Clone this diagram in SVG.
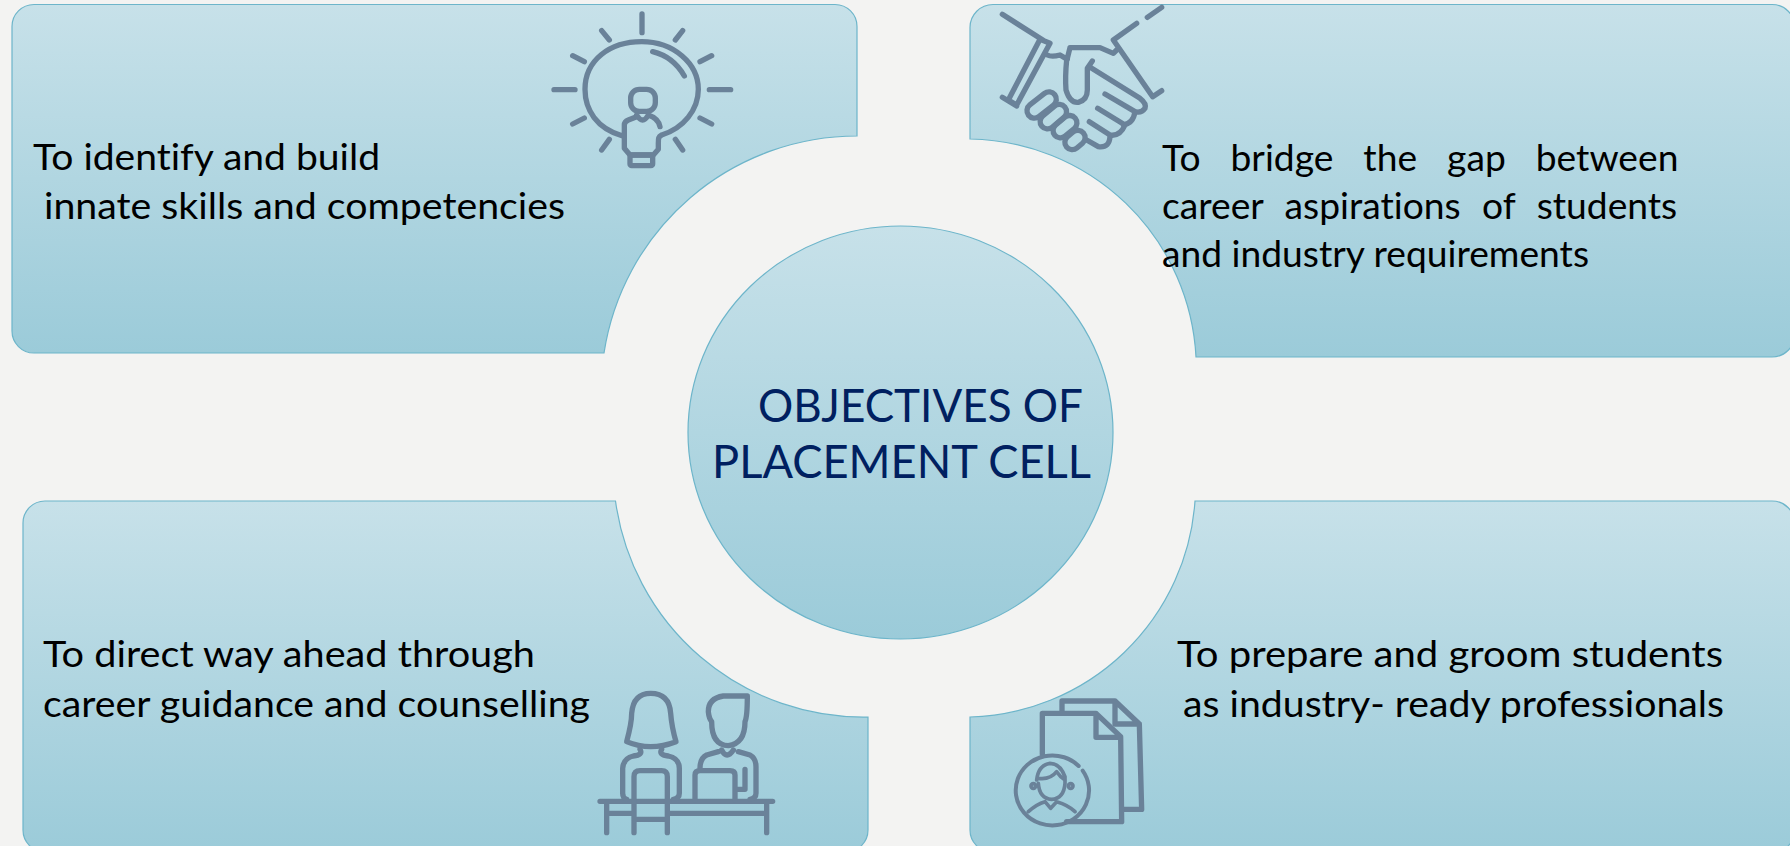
<svg xmlns="http://www.w3.org/2000/svg" width="1790" height="846" viewBox="0 0 1790 846">
<style>
.panel{fill:url(#g);stroke:#6db5ca;stroke-width:1.2}
.t{font-family:"Lato","Liberation Sans",sans-serif;font-size:37.2px;fill:#000;font-variant-ligatures:none}
.h{font-family:"Lato","Liberation Sans",sans-serif;font-size:46px;fill:#002060;font-variant-ligatures:none}
.i{fill:none;stroke:#6a8299;stroke-width:16;stroke-linecap:round;stroke-linejoin:round}
</style>
<defs>
<linearGradient id="g" x1="0" y1="0" x2="0" y2="1"><stop offset="0" stop-color="#c7e1e9"/><stop offset="1" stop-color="#9bcbd9"/></linearGradient>
</defs>
<rect width="1790" height="846" fill="#f3f3f2"/>
<g id="panel-top-left">
<path class="panel" d="M34,4.5H835A22,22 0 0 1 857,26.5V136A256,256 0 0 0 604,353H34A22,22 0 0 1 12,331V26.5A22,22 0 0 1 34,4.5Z"/>
<text class="t" x="33" y="170" textLength="347" lengthAdjust="spacingAndGlyphs">To identify and build</text>
<text class="t" x="44" y="219" textLength="521" lengthAdjust="spacingAndGlyphs">innate skills and competencies</text>
<g class="i" transform="translate(530,0) scale(.33333)">
<path d="M336,42V98M72,269H135M538,269H602M128,167L163,185M545,167L510,185M128,372L163,354M545,372L510,354M215,92L238,120M458,92L436,120M215,450L238,418M458,450L436,418"/>
<path d="M278,408C200,385 165,330 165,268C165,180 240,125 335,125C430,125 505,190 505,268C505,330 460,385 395,405C385,410 385,415 385,430V448L370,465H300L283,445V375Q283,365 295,360L320,350"/>
<path d="M368,155Q430,170 463,228"/>
<rect x="302" y="268" width="74" height="66" rx="26"/>
<path d="M320,345Q338,375 355,345Q385,355 390,380"/>
<rect x="300" y="465" width="68" height="32" rx="5"/>
</g>
</g>
<g id="panel-top-right">
<path class="panel" d="M993,4.5H1772A23,23 0 0 1 1795,27.5V334A23,23 0 0 1 1772,357H1196A230,230 0 0 0 970,139V27.5A23,23 0 0 1 993,4.5Z"/>
<text class="t" x="1162" y="171" word-spacing="20.5">To bridge the gap between</text>
<text class="t" x="1162" y="219" word-spacing="12">career aspirations of students</text>
<text class="t" x="1162" y="267">and industry requirements</text>
<g class="i" transform="translate(970,0) scale(.33333)">
<path d="M97,43L222,122M210,118L240,130L140,315L115,300ZM97,292L140,318"/>
<path d="M232,165Q245,172 270,165L292,178M290,180Q285,230 288,270Q300,310 325,307Q352,300 352,270V205L367,183M300,143H390L430,160L440,150M300,143L292,175"/>
<path d="M500,70L430,120L548,290L575,272M532,52L575,22"/>
<path d="M358,200L510,295Q530,310 525,325Q515,340 495,335M405,282L495,335Q490,370 460,375M383,325L465,375Q450,410 420,405M358,365L420,405Q420,445 385,440L350,420"/>
<rect x="165" y="293" width="100" height="44" rx="22" transform="rotate(-38 215 315)"/>
<rect x="205" y="328" width="90" height="44" rx="22" transform="rotate(-40 250 350)"/>
<rect x="245" y="358" width="80" height="44" rx="22" transform="rotate(-40 285 380)"/>
<rect x="282" y="398" width="66" height="44" rx="22" transform="rotate(-40 315 420)"/>
</g>
</g>
<g id="panel-bottom-left">
<path class="panel" d="M45,501H615.5A250,250 0 0 0 868,717V830A22,22 0 0 1 846,852H45A22,22 0 0 1 23,830V523A22,22 0 0 1 45,501Z"/>
<text class="t" x="43" y="667" textLength="492" lengthAdjust="spacingAndGlyphs">To direct way ahead through</text>
<text class="t" x="43" y="717" textLength="547" lengthAdjust="spacingAndGlyphs">career guidance and counselling</text>
<g class="i" transform="translate(590,680) scale(.33333)">
<path d="M30,364H548M50,364V458M530,364V458M50,400H128M238,400H530"/>
<path d="M132,458V290Q132,272 150,272H215Q232,272 232,290V458M132,418H232"/>
<path d="M110,185Q125,130 125,100Q130,40 182,40Q238,40 242,100Q245,140 258,185Q180,215 110,185Z"/>
<path d="M150,208Q160,225 130,228Q100,235 98,265V340Q98,355 110,358M215,208Q205,225 235,228Q268,235 268,265V340Q268,355 250,358"/>
<path d="M472,48H400Q355,55 355,95Q357,115 365,125Q365,195 415,197Q465,190 465,125Q472,110 472,48Z"/>
<path d="M395,210Q410,240 430,210M385,215L350,225Q330,235 330,265M445,215L480,225Q498,235 498,260V340Q498,355 480,358"/>
<path d="M315,360V285Q315,272 330,272H420Q435,272 435,285V360M465,268V328H435"/>
</g>
</g>
<g id="panel-bottom-right">
<path class="panel" d="M1195,501H1772A23,23 0 0 1 1795,524V830A22,22 0 0 1 1773,852H992A22,22 0 0 1 970,830V717A232,232 0 0 0 1195,501Z"/>
<text class="t" x="1177" y="667" textLength="546" lengthAdjust="spacingAndGlyphs">To prepare and groom students</text>
<text class="t" x="1183" y="717" textLength="541" lengthAdjust="spacingAndGlyphs">as industry- ready professionals</text>
<g class="i" transform="translate(1000,680) scale(.33333)">
<path d="M186,95V63H345L418,132L425,388H368M345,63V132H418"/>
<path d="M127,222V100H288L362,170L365,425H200M288,100V172H362"/>
<path stroke-width="12" d="M236,258A110,105 0 1 0 248,272"/>
<path stroke-width="11" d="M115,310Q118,355 155,358Q192,355 195,310V290Q180,250 150,250Q115,255 110,300M115,295Q150,300 170,275Q180,290 195,300M85,395Q110,372 135,365L152,385L170,365Q205,375 225,395"/>
<circle stroke-width="11" cx="100" cy="318" r="7"/><circle stroke-width="11" cx="212" cy="318" r="7"/>
</g>
</g>
<g id="center">
<ellipse class="panel" cx="900.5" cy="432.5" rx="212.5" ry="206.5"/>
<text class="h" x="758" y="422" textLength="325" lengthAdjust="spacingAndGlyphs">OBJECTIVES OF</text>
<text class="h" x="712" y="478" textLength="379" lengthAdjust="spacingAndGlyphs">PLACEMENT CELL</text>
</g>
<g id="connectors"/>
</svg>
